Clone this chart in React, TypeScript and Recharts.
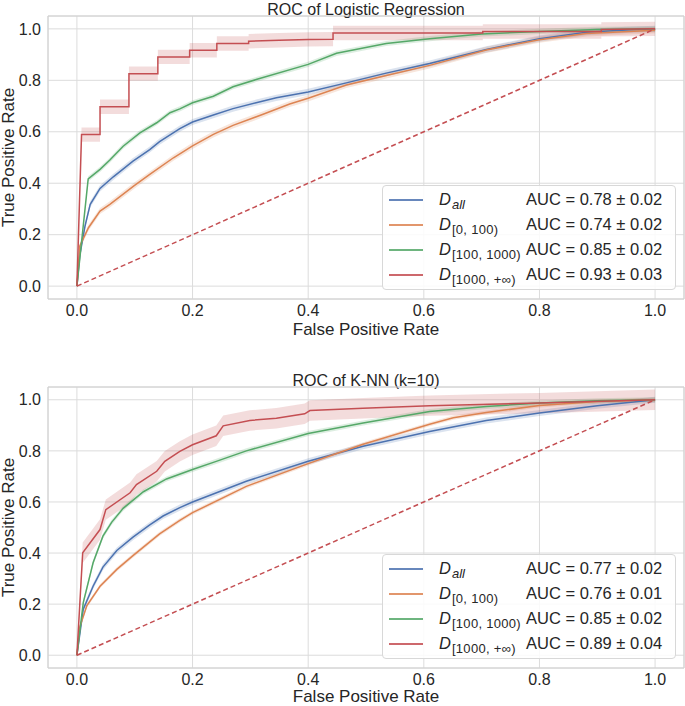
import { Area, CartesianGrid, ComposedChart, Line, ReferenceArea, XAxis, YAxis } from 'recharts'

const FONT = '"Liberation Sans", Arial, sans-serif'
const INK = '#262626'
const GRID = '#dcdcdc'

const BLUE = '#4C72B0'
const ORANGE = '#DD8452'
const GREEN = '#55A868'
const RED = '#C44E52'

const ticks = [0, 0.2, 0.4, 0.6, 0.8, 1.0]
const diagFpr = [0, 1]
const diagTpr = [0, 1]

// ROC of Logistic Regression
const lrAllFpr = [0, 0.005, 0.014, 0.023, 0.04, 0.063, 0.097, 0.126, 0.143, 0.178, 0.2, 0.236, 0.27, 0.31, 0.345, 0.4, 0.466, 0.535, 0.61, 0.708, 0.8, 0.881, 0.95, 1.0]
const lrAllTpr = [0, 0.12, 0.233, 0.318, 0.38, 0.425, 0.486, 0.531, 0.562, 0.612, 0.638, 0.665, 0.69, 0.713, 0.732, 0.755, 0.79, 0.828, 0.865, 0.92, 0.962, 0.987, 0.996, 1.0]
const lrLowFpr = [0, 0.005, 0.02, 0.04, 0.057, 0.098, 0.126, 0.167, 0.2, 0.236, 0.27, 0.322, 0.368, 0.4, 0.466, 0.535, 0.61, 0.708, 0.8, 0.881, 1.0]
const lrLowTpr = [0, 0.156, 0.227, 0.292, 0.318, 0.389, 0.434, 0.499, 0.545, 0.59, 0.625, 0.668, 0.708, 0.73, 0.782, 0.819, 0.858, 0.918, 0.958, 0.982, 0.995]
const lrMidFpr = [0, 0.0195, 0.04, 0.057, 0.08, 0.109, 0.138, 0.161, 0.178, 0.2, 0.236, 0.27, 0.31, 0.4, 0.449, 0.535, 0.61, 0.7, 0.8, 0.9, 1.0]
const lrMidTpr = [0, 0.417, 0.454, 0.49, 0.544, 0.596, 0.635, 0.674, 0.689, 0.713, 0.738, 0.775, 0.803, 0.862, 0.905, 0.943, 0.962, 0.98, 0.99, 0.998, 1.0]
const lrHighFpr = [0, 0.008, 0.04, 0.04, 0.09, 0.09, 0.14, 0.14, 0.195, 0.195, 0.242, 0.242, 0.297, 0.297, 0.35, 0.4, 0.443, 0.443, 0.702, 0.702, 0.907, 0.907, 1.0]
const lrHighTpr = [0, 0.589, 0.589, 0.697, 0.697, 0.826, 0.826, 0.891, 0.891, 0.917, 0.917, 0.943, 0.943, 0.952, 0.956, 0.959, 0.96, 0.984, 0.984, 0.99, 0.99, 0.998, 1.0]

// ROC of K-NN (k=10)
const knnAllFpr = [0, 0.011, 0.028, 0.045, 0.069, 0.097, 0.126, 0.149, 0.178, 0.2, 0.293, 0.4, 0.495, 0.61, 0.708, 0.8, 0.9, 1.0]
const knnAllTpr = [0, 0.18, 0.27, 0.345, 0.41, 0.462, 0.51, 0.545, 0.578, 0.6, 0.681, 0.759, 0.818, 0.876, 0.919, 0.948, 0.977, 1.0]
const knnLowFpr = [0, 0.005, 0.017, 0.04, 0.069, 0.097, 0.143, 0.178, 0.2, 0.293, 0.4, 0.443, 0.495, 0.61, 0.651, 0.708, 0.8, 0.9, 1.0]
const knnLowTpr = [0, 0.11, 0.193, 0.27, 0.336, 0.39, 0.475, 0.528, 0.558, 0.661, 0.75, 0.785, 0.826, 0.904, 0.93, 0.95, 0.978, 0.993, 1.0]
const knnMidFpr = [0, 0.011, 0.028, 0.045, 0.06, 0.08, 0.115, 0.155, 0.2, 0.241, 0.293, 0.4, 0.495, 0.61, 0.708, 0.8, 0.9, 1.0]
const knnMidTpr = [0, 0.206, 0.362, 0.466, 0.52, 0.575, 0.64, 0.69, 0.727, 0.759, 0.8, 0.868, 0.909, 0.954, 0.974, 0.987, 0.996, 1.0]
const knnHighFpr = [0, 0.01, 0.04, 0.05, 0.092, 0.103, 0.138, 0.152, 0.178, 0.2, 0.241, 0.253, 0.299, 0.345, 0.394, 0.403, 0.495, 0.61, 0.8, 1.0]
const knnHighTpr = [0, 0.401, 0.492, 0.57, 0.636, 0.668, 0.72, 0.759, 0.798, 0.824, 0.859, 0.898, 0.919, 0.928, 0.945, 0.958, 0.967, 0.977, 0.987, 1.0]

const lrStd = [0.012, 0.012, 0.01, 0.028]
const knnStd = [0.012, 0.008, 0.01, 0.04]

const subs = ['all', '[0, 100)', '[100, 1000)', '[1000, +∞)']
const colors = [BLUE, ORANGE, GREEN, RED]
const lrAuc = ['AUC = 0.78 ± 0.02', 'AUC = 0.74 ± 0.02', 'AUC = 0.85 ± 0.02', 'AUC = 0.93 ± 0.03']
const knnAuc = ['AUC = 0.77 ± 0.02', 'AUC = 0.76 ± 0.01', 'AUC = 0.85 ± 0.02', 'AUC = 0.89 ± 0.04']

type Pt = { x: number; y: number; band: [number, number] }

function toSeries(fpr: number[], tpr: number[], sd: number): Pt[] {
  return fpr.map((x, i) => {
    const s = i === 0 ? 0 : sd
    return { x, y: tpr[i], band: [tpr[i] - s, tpr[i] + s] }
  })
}

const diag = diagFpr.map((x, i) => ({ x, y: diagTpr[i] }))

type PanelProps = {
  title: string
  top: number
  height: number
  marginBottom: number
  labelGap: number
  curves: [number[], number[]][]
  std: number[]
  auc: string[]
}

function Panel({ title, top, height, marginBottom, labelGap, curves, std, auc }: PanelProps) {
  const series = curves.map(([f, t], i) => toSeries(f, t, std[i]))
  const xAxisH = 30
  const plotBottom = height - marginBottom - xAxisH
  const mid = (16 + plotBottom) / 2
  return (
    <div style={{ position: 'absolute', left: 0, top, width: 685, height }}>
      <ComposedChart width={685} height={height} margin={{ top: 16, right: 1, left: 8, bottom: marginBottom }}>
        <CartesianGrid stroke={GRID} strokeWidth={1} horizontal vertical />
        <ReferenceArea x1={-0.05} x2={1.05} y1={-0.05} y2={1.05} fill="none" stroke="#d0d0d0" strokeWidth={1} ifOverflow="visible" />
        <XAxis
          type="number"
          dataKey="x"
          domain={[-0.05, 1.05]}
          ticks={ticks}
          allowDataOverflow
          axisLine={false}
          tickLine={false}
          tickSize={0}
          tickMargin={6}
          height={xAxisH}
          tickFormatter={(v: number) => v.toFixed(1)}
          tick={{ fill: INK, fontSize: 16, fontFamily: FONT }}
        />
        <YAxis
          type="number"
          domain={[-0.05, 1.05]}
          ticks={ticks}
          allowDataOverflow
          axisLine={false}
          tickLine={false}
          tickSize={0}
          tickMargin={7}
          width={40}
          tickFormatter={(v: number) => v.toFixed(1)}
          tick={{ fill: INK, fontSize: 16, fontFamily: FONT }}
        />
        {series.map((d, i) => (
          <Area
            key={'b' + i}
            data={d}
            dataKey="band"
            type="linear"
            stroke="none"
            fill={colors[i]}
            fillOpacity={0.2}
            isAnimationActive={false}
            activeDot={false}
          />
        ))}
        {series.map((d, i) => (
          <Line
            key={'l' + i}
            data={d}
            dataKey="y"
            type="linear"
            stroke={colors[i]}
            strokeWidth={1.5}
            dot={false}
            activeDot={false}
            isAnimationActive={false}
          />
        ))}
        <Line
          data={diag}
          dataKey="y"
          type="linear"
          stroke={RED}
          strokeWidth={1.5}
          strokeDasharray="5 3"
          dot={false}
          activeDot={false}
          isAnimationActive={false}
        />
        <text x={366} y={14.5} textAnchor="middle" fill={INK} fontSize={16} fontFamily={FONT}>
          {title}
        </text>
        <text x={366} y={plotBottom + labelGap} textAnchor="middle" fill={INK} fontSize={17} fontFamily={FONT}>
          False Positive Rate
        </text>
        <text
          x={14}
          y={mid}
          transform={`rotate(-90 14 ${mid})`}
          textAnchor="middle"
          fill={INK}
          fontSize={17}
          fontFamily={FONT}
        >
          True Positive Rate
        </text>
      </ComposedChart>
      <div
        style={{
          position: 'absolute',
          left: 382,
          top: plotBottom - 114,
          width: 294,
          height: 105,
          boxSizing: 'border-box',
          border: '1px solid #d8d8d8',
          borderRadius: 4,
          background: 'rgba(255,255,255,0.85)',
          fontFamily: FONT,
          fontSize: 16.5,
          color: INK,
        }}
      >
        {subs.map((s, i) => (
          <div key={s} style={{ position: 'absolute', left: 0, top: 1 + i * 25, height: 25, width: '100%' }}>
            <div style={{ position: 'absolute', left: 6, top: 12, width: 34, height: 1.5, background: colors[i], opacity: 0.85 }} />
            <div style={{ position: 'absolute', left: 56, top: 2, whiteSpace: 'nowrap', lineHeight: '20px' }}>
              <span style={{ fontStyle: 'italic' }}>D</span>
              <span
                style={{
                  fontSize: 13,
                  letterSpacing: i === 0 ? 0 : 0.3,
                  fontStyle: i === 0 ? 'italic' : 'normal',
                  position: 'relative',
                  top: 4,
                  marginLeft: 1,
                }}
              >
                {s}
              </span>
            </div>
            <div style={{ position: 'absolute', left: 143, top: 2, whiteSpace: 'nowrap', lineHeight: '20px' }}>{auc[i]}</div>
          </div>
        ))}
      </div>
    </div>
  )
}

export default function App() {
  return (
    <div style={{ position: 'absolute', left: 0, top: 0, width: 685, height: 706, background: '#fff' }}>
      <Panel
        title="ROC of Logistic Regression"
        top={0}
        height={353}
        marginBottom={24}
        labelGap={36}
        curves={[
          [lrAllFpr, lrAllTpr],
          [lrLowFpr, lrLowTpr],
          [lrMidFpr, lrMidTpr],
          [lrHighFpr, lrHighTpr],
        ]}
        std={lrStd}
        auc={lrAuc}
      />
      <Panel
        title="ROC of K-NN (k=10)"
        top={371}
        height={335}
        marginBottom={8}
        labelGap={34}
        curves={[
          [knnAllFpr, knnAllTpr],
          [knnLowFpr, knnLowTpr],
          [knnMidFpr, knnMidTpr],
          [knnHighFpr, knnHighTpr],
        ]}
        std={knnStd}
        auc={knnAuc}
      />
    </div>
  )
}
